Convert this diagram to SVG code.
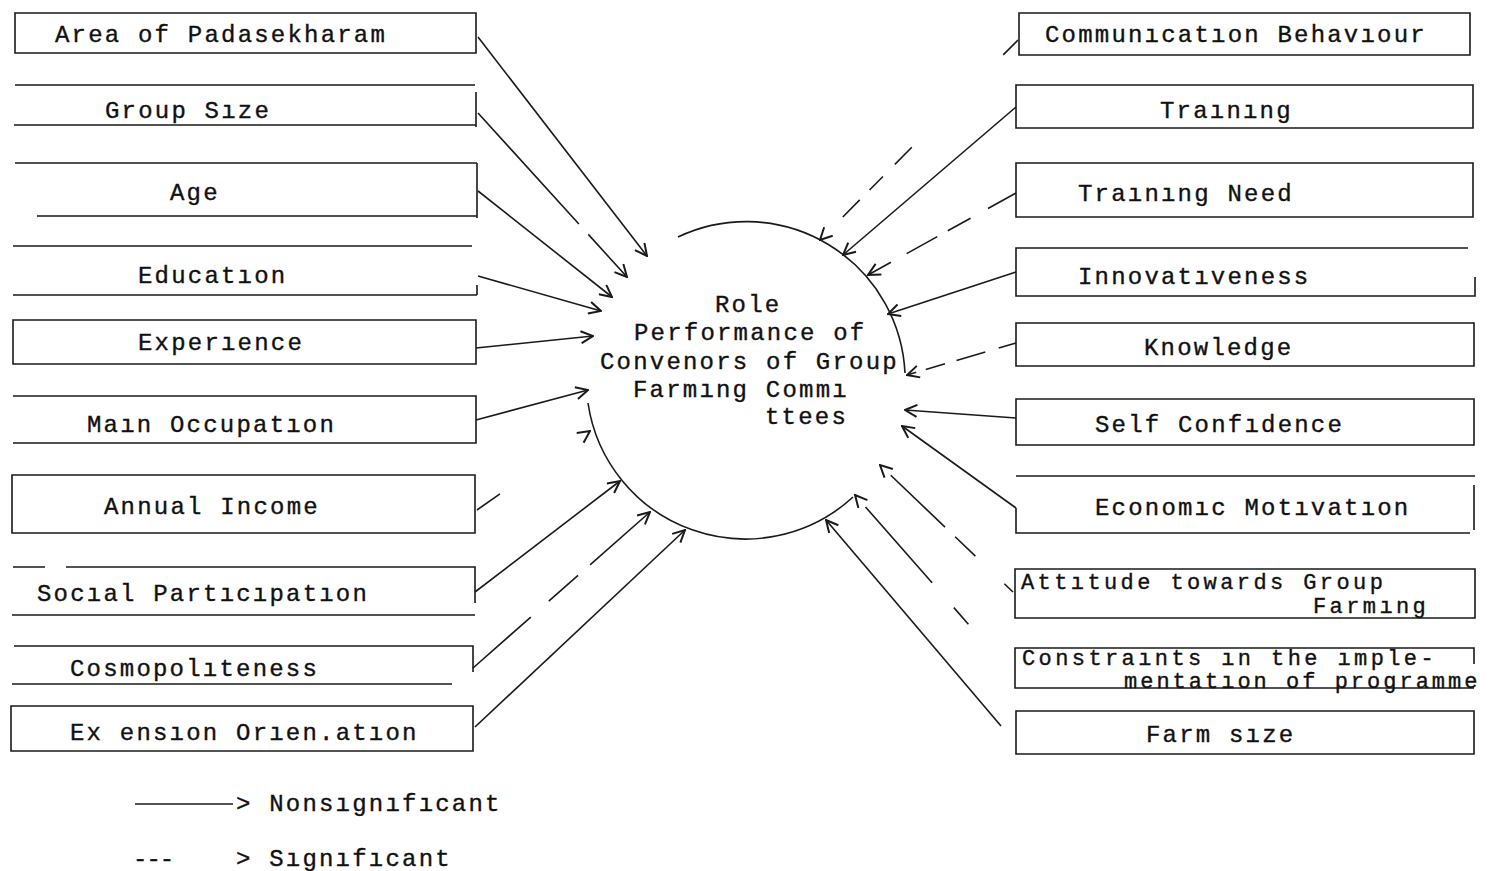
<svg xmlns="http://www.w3.org/2000/svg" width="1490" height="871" viewBox="0 0 1490 871">
<style>
.bx{fill:none;stroke:#1a1a1a;stroke-width:1.6}
.t{font-family:"Liberation Mono","Courier New",monospace;font-size:24px;letter-spacing:2.2px;fill:#111;stroke:#111;stroke-width:0.35}
.t2{font-size:22px;letter-spacing:3.4px}
.ns{fill:none;stroke:#1a1a1a;stroke-width:1.6;marker-end:url(#ah)}
.sig{fill:none;stroke:#1a1a1a;stroke-width:1.6;marker-end:url(#ah)}
.arc{fill:none;stroke:#1a1a1a;stroke-width:1.6}
</style>
<defs>
<marker id="ah" viewBox="0 0 14 14" refX="13" refY="7" markerWidth="14" markerHeight="14" markerUnits="userSpaceOnUse" orient="auto">
<path d="M1,1 L13,7 L1,13" fill="none" stroke="#1a1a1a" stroke-width="2"/>
</marker>
</defs>
<rect width="1490" height="871" fill="#fff"/>

<g id="n-area"><path class="bx" d="M15,13 H476 V53 H15 Z"/><text class="t" x="55" y="42">Area of Padasekharam</text></g>
<g id="n-groupsize"><path class="bx" d="M15,85 H475 M14,125 H476 M476,92 V127"/><text class="t" x="105" y="118">Group Sıze</text></g>
<g id="n-age"><path class="bx" d="M15,163 H477 M37,216 H477 M477,163 V218"/><text class="t" x="170" y="200">Age</text></g>
<g id="n-education"><path class="bx" d="M13,246 H472 M13,295 H477 M477,285 V295"/><text class="t" x="138" y="283">Educatıon</text></g>
<g id="n-experience"><path class="bx" d="M13,320 H476 V364 H13 Z"/><text class="t" x="138" y="350">Experıence</text></g>
<g id="n-occupation"><path class="bx" d="M13,396 H476 V443 H13"/><text class="t" x="87" y="432">Maın Occupatıon</text></g>
<g id="n-income"><path class="bx" d="M12,475 H475 V533 H12 Z"/><text class="t" x="104" y="514">Annual Income</text></g>
<g id="n-social"><path class="bx" d="M13,567 H45 M66,567 H475 V603 M12,615 H475"/><text class="t" x="37" y="601">Socıal Partıcıpatıon</text></g>
<g id="n-cosmo"><path class="bx" d="M14,646 H473 V672 M12,684 H452"/><text class="t" x="70" y="676">Cosmopolıteness</text></g>
<g id="n-extension"><path class="bx" d="M11,706 H473 V751 H11 Z"/><text class="t" x="70" y="740">Ex ensıon Orıen.atıon</text></g>

<g id="n-comm"><path class="bx" d="M1019,13 H1470 V55 H1019 Z"/><text class="t" x="1045" y="42">Communıcatıon Behavıour</text></g>
<g id="n-training"><path class="bx" d="M1016,85 H1473 V128 H1016 Z"/><text class="t" x="1160" y="118">Traınıng</text></g>
<g id="n-trainingneed"><path class="bx" d="M1016,163 H1473 V217 H1016 Z"/><text class="t" x="1078" y="201">Traınıng Need</text></g>
<g id="n-innov"><path class="bx" d="M1475,277 V296 H1016 V248 H1468"/><text class="t" x="1078" y="284">Innovatıveness</text></g>
<g id="n-knowledge"><path class="bx" d="M1016,323 H1474 V366 H1016 Z"/><text class="t" x="1144" y="355">Knowledge</text></g>
<g id="n-selfconf"><path class="bx" d="M1016,399 H1474 V445 H1016 Z"/><text class="t" x="1095" y="432">Self Confıdence</text></g>
<g id="n-economic"><path class="bx" d="M1016,476 H1475 M1474,485 V530 M1470,533 H1016 V508"/><text class="t" x="1095" y="515">Economıc Motıvatıon</text></g>
<g id="n-attitude"><path class="bx" d="M1015,569 H1475 V618 H1015 Z"/><text class="t t2" x="1021" y="589">Attıtude towards Group</text><text class="t t2" x="1313" y="613">Farmıng</text></g>
<g id="n-constraints"><path class="bx" d="M1474,664 V648 H1015 V688 H1474"/><text class="t t2" x="1022" y="665">Constraınts ın the ımple-</text><text class="t t2" x="1124" y="688" style="letter-spacing:3px">mentatıon of programme</text></g>
<g id="n-farmsize"><path class="bx" d="M1016,711 H1474 V754 H1016 Z"/><text class="t" x="1146" y="742">Farm sıze</text></g>

<g id="center">
<path class="arc" d="M678,237 A159,159 0 0 1 905,373"/>
<path class="arc" d="M853,497 A159,159 0 0 1 588,403"/>
<text class="t" x="715" y="312">Role</text>
<text class="t" x="634" y="340">Performance of</text>
<text class="t" x="600" y="369">Convenors of Group</text>
<text class="t" x="633" y="397">Farmıng Commı</text>
<text class="t" x="765" y="424">ttees</text>
</g>

<g id="connectors">
<path class="ns" d="M478,37 L647,256"/>
<path class="sig" style="stroke-dasharray:150 14 80" d="M478,113 L627,277"/>
<path class="ns" d="M478,191 L612,297"/>
<path class="ns" d="M478,276 L601,311"/>
<path class="ns" d="M476,348 L593,336"/>
<path class="ns" d="M476,420 L588,390"/>
<path class="sig" style="stroke-dasharray:28 300" d="M477,510 L590,431"/>
<path class="ns" d="M475,592 L620,481"/>
<path class="sig" style="stroke-dasharray:77 24 39 16 95" d="M473,668 L650,512"/>
<path class="ns" d="M475,727 L685,530"/>

<path class="sig" style="stroke-dasharray:21 130 24 17 19 14 24 100" d="M1018,40 L820,240"/>
<path class="ns" d="M1016,107 L843,255"/>
<path class="sig" style="stroke-dasharray:32 20 26 12 35 18 30" d="M1016,193 L868,275"/>
<path class="ns" d="M1016,272 L888,314"/>
<path class="sig" style="stroke-dasharray:18 14 30 12 20 10 60" d="M1016,343 L907,375"/>
<path class="ns" d="M1016,418 L905,410"/>
<path class="ns" d="M1016,508 L902,426"/>
<path class="sig" style="stroke-dasharray:12 40 28 14 75 30" d="M1013,592 L880,465"/>
<path class="sig" style="stroke-dasharray:0 57 22 33 101 40" d="M1006,667 L855,495"/>
<path class="ns" d="M1001,726 L826,520"/>
</g>

<g id="legend">
<line x1="135" y1="804" x2="233" y2="804" stroke="#1a1a1a" stroke-width="1.6"/>
<text class="t" x="236" y="811">&gt; Nonsıgnıfıcant</text>
<text class="t" x="133" y="866" style="letter-spacing:-1px">---</text>
<text class="t" x="236" y="866">&gt; Sıgnıfıcant</text>
</g>
</svg>
